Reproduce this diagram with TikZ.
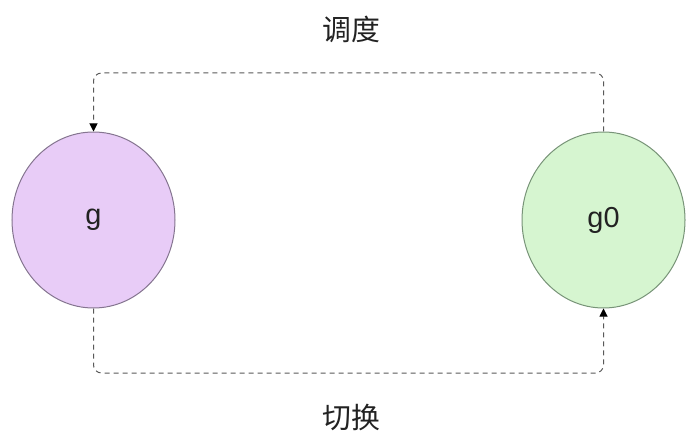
\documentclass[tikz,border=0pt]{standalone}
\usepackage{fontspec}
\setmainfont{Liberation Sans}
\newfontfamily\cjk{Noto Sans CJK SC}
\usetikzlibrary{shapes.geometric,arrows.meta}
\definecolor{gfill}{HTML}{E8CCF7}
\definecolor{gdraw}{HTML}{857590}
\definecolor{hfill}{HTML}{D6F5D0}
\definecolor{hdraw}{HTML}{789478}
\definecolor{lbl}{HTML}{222222}
\tikzset{
  stnode/.style={ellipse, minimum width=163bp, minimum height=176bp, inner sep=0pt, line width=1bp, font=\fontsize{29}{32}\selectfont, text=lbl},
  conn/.style={draw=black!65, line width=1bp, dash pattern=on 5bp off 4bp, rounded corners=8bp, -{Triangle[length=8bp,width=8bp,color=black,fill=black]}},
  cjklabel/.style={font=\cjk\fontsize{29}{32}\selectfont, text=lbl}
}
\begin{document}
\begin{tikzpicture}[x=1bp,y=-1bp]
\useasboundingbox (0,0) rectangle (692,446);
\node[stnode, fill=gfill, draw=gdraw] (g) at (93.5,220) {g};
\node[stnode, fill=hfill, draw=hdraw] (g0) at (603.5,220) {g0};
\coordinate (tr) at (603.5,73);
\coordinate (tl) at (93.5,73);
\coordinate (bl) at (93.5,373);
\coordinate (br) at (603.5,373);
\draw[conn] (g0.north) -- (tr) -- (tl) -- (g.north);
\draw[conn] (g.south) -- (bl) -- (br) -- (g0.south);
\node[cjklabel] (t1) at (351,29) {调度};
\node[cjklabel] (t2) at (351,418) {切换};
\end{tikzpicture}
\end{document}
